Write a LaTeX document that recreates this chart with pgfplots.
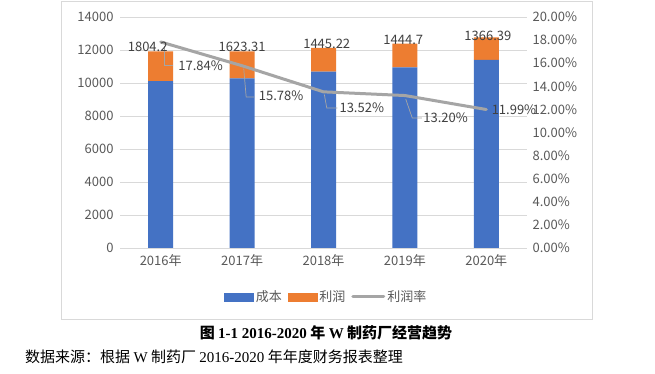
\documentclass[border=0pt]{standalone}
\usepackage{fontspec}
\setmainfont{Noto Sans CJK SC}
\newfontfamily\lser{Liberation Serif}
\newfontfamily\song{Noto Sans CJK SC}
\usepackage{pgfplots}
\pgfplotsset{compat=1.18}
\definecolor{cblue}{HTML}{4472C4}
\definecolor{corange}{HTML}{ED7D31}
\definecolor{cline}{HTML}{A5A5A5}
\definecolor{cgrid}{HTML}{D9D9D9}
\definecolor{ctext}{HTML}{595959}
\definecolor{clab}{HTML}{404040}
\begin{document}
\begin{tikzpicture}[x=1pt,y=1pt]
\useasboundingbox (0,0) rectangle (655,374);
\fill[white] (0,0) rectangle (655,374);
\draw[cgrid, line width=0.8pt] (61.5,55) rectangle (592,372.5);
\begin{axis}[
  at={(120pt,126pt)}, anchor=south west,
  scale only axis, width=407pt, height=231pt,
  xmin=-0.5, xmax=4.5, ymin=0, ymax=14000,
  xtick={0,1,2,3,4},
  xticklabels={2016年,2017年,2018年,2019年,2020年},
  ytick={0,2000,4000,6000,8000,10000,12000,14000},
  ymajorgrids, grid style={cgrid, line width=0.8pt},
  axis lines*=left,
  x axis line style={cgrid, line width=0.8pt, -},
  y axis line style={draw=none},
  major tick length=0pt,
  ybar stacked, bar width=25pt,
  tick label style={font=\fontsize{13}{15}\selectfont, text=ctext},
  /pgf/number format/assume math mode=true,
  /pgf/number format/fixed,
  /pgf/number format/1000 sep={},
  scaled y ticks=false,
  xticklabel style={yshift=-3pt},
  yticklabel style={xshift=-3pt},
  clip=false,
]
\addplot[fill=cblue, draw=none] coordinates {(0,10113) (1,10287) (2,10689) (3,10945) (4,11396)};
\addplot[fill=corange, draw=none] coordinates {(0,1804.2) (1,1623.31) (2,1445.22) (3,1444.7) (4,1366.39)};
\end{axis}
\begin{axis}[
  at={(120pt,126pt)}, anchor=south west,
  scale only axis, width=407pt, height=231pt,
  xmin=-0.5, xmax=4.5, ymin=0, ymax=0.2,
  axis x line=none,
  axis y line*=right,
  y axis line style={draw=none},
  major tick length=0pt,
  ytick={0,0.02,0.04,0.06,0.08,0.1,0.12,0.14,0.16,0.18,0.2},
  yticklabel={\pgfmathparse{\tick*100}\pgfmathprintnumber[fixed,fixed zerofill,precision=2]{\pgfmathresult}\%},
  /pgf/number format/assume math mode=true,
  tick label style={font=\fontsize{13}{15}\selectfont, text=ctext},
  yticklabel style={xshift=2pt},
  clip=false,
  legend columns=3,
  legend style={at={(0.507,-0.212)}, anchor=center, draw=none, fill=none,
    font=\fontsize{13}{15}\selectfont, text=ctext,
    /tikz/every even column/.append style={column sep=4pt}},
]
\addlegendimage{legend image code/.code={\fill[cblue] (0pt,-4pt) rectangle (29pt,4pt);}}
\addlegendentry{成本}
\addlegendimage{legend image code/.code={\fill[corange] (0pt,-4pt) rectangle (29pt,4pt);}}
\addlegendentry{利润}
\addplot[cline, line width=3pt, line cap=round, line join=round,
  legend image code/.code={\draw[cline, line width=3pt] (0pt,0pt) -- (31pt,0pt);}]
  coordinates {(0,0.1784) (1,0.1578) (2,0.1352) (3,0.1320) (4,0.1199)};
\addlegendentry{利润率}
% leader lines
\draw[cline, line width=0.7pt] (axis cs:0.04,0.175) -- (axis cs:0.04,0.1584) -- (axis cs:0.15,0.1584);
\draw[cline, line width=0.7pt] (axis cs:1.02,0.1554) -- (axis cs:1.05,0.1307) -- (axis cs:1.15,0.1307);
\draw[cline, line width=0.7pt] (axis cs:2.01,0.133) -- (axis cs:2.04,0.1212) -- (axis cs:2.17,0.1212);
\draw[cline, line width=0.7pt] (axis cs:3.01,0.129) -- (axis cs:3.09,0.1126) -- (axis cs:3.21,0.1126);
% data labels
\begin{scope}[every node/.style={font=\fontsize{13}{15}\selectfont, text=clab, inner sep=0pt}]
\node at (axis cs:-0.16,0.1740) {1804.2};
\node at (axis cs:1.0,0.1740) {1623.31};
\node at (axis cs:2.04,0.1766) {1445.22};
\node at (axis cs:2.98,0.1801) {1444.7};
\node at (axis cs:4.02,0.1835) {1366.39};
\node at (axis cs:0.49,0.1576) {17.84\%};
\node at (axis cs:1.48,0.1316) {15.78\%};
\node at (axis cs:2.47,0.1212) {13.52\%};
\node at (axis cs:3.50,0.1126) {13.20\%};
\node at (axis cs:4.34,0.1195) {11.99\%};
\end{scope}
\end{axis}
\node at (326,41) {\song\bfseries\fontsize{15}{17}\selectfont 图 {\lser\bfseries 1-1 2016-2020} 年 {\lser\bfseries W} 制药厂经营趋势};
\node[anchor=west, inner sep=0pt] at (25,17) {\song\fontsize{15}{17}\selectfont 数据来源：根据 {\lser W} 制药厂 {\lser 2016-2020} 年年度财务报表整理};
\end{tikzpicture}
\end{document}
